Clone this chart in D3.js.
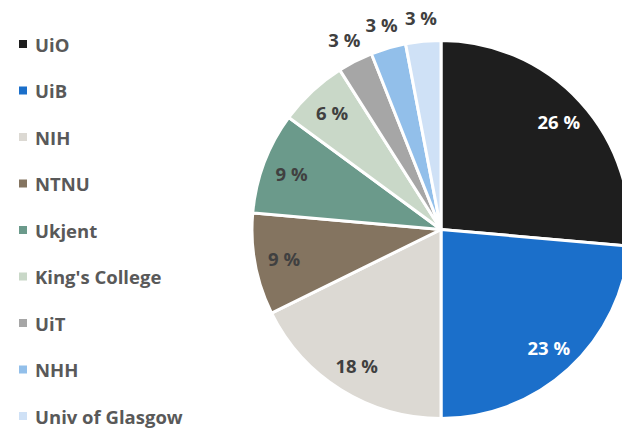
<!DOCTYPE html>
<html><head><meta charset="utf-8">
<script src="https://cdn.jsdelivr.net/npm/d3@7"></script>
<style>html,body{margin:0;padding:0;background:#fff;overflow:hidden}</style>
</head><body>
<svg id="chart" width="622" height="430"></svg>
<script>
const categories = ["UiO","UiB","NIH","NTNU","Ukjent","King's College","UiT","NHH","Univ of Glasgow"];
const values = [26.4, 23.6, 17.7, 8.7, 8.7, 5.9, 3.0, 3.0, 3.0];
const labels = ["26 %","23 %","18 %","9 %","9 %","6 %","3 %","3 %","3 %"];
const colors = ["#1e1e1e","#1b6fca","#dcd9d3","#847460","#6b9a8b","#c9d8c8","#a6a6a6","#92bfea","#cfe1f6"];
const labelColors = ["#ffffff","#ffffff","#404040","#404040","#404040","#404040","#404040","#404040","#404040"];

const svg = d3.select("#chart");
const cx = 441, cy = 229.5, R = 189;
const font = "'Open Sans', sans-serif";

const pie = d3.pie().sort(null).value(d => d.v);
const data = pie(categories.map((c,i)=>({c, v: values[i], i})));
const arc = d3.arc().innerRadius(0).outerRadius(R);
const g = svg.append("g").attr("transform", `translate(${cx},${cy})`);
g.selectAll("path").data(data).join("path")
  .attr("d", arc)
  .attr("fill", d => colors[d.data.i])
  .attr("stroke", "#fff").attr("stroke-width", 3).attr("stroke-linejoin","round");

const inArc = d3.arc().innerRadius(R*0.845).outerRadius(R*0.845);
const outArc = d3.arc().innerRadius(R+24).outerRadius(R+24);
g.selectAll("text.lbl").data(data).join("text")
  .attr("class","lbl")
  .attr("transform", d => {
    const p = (d.data.v < 4 ? outArc : inArc).centroid(d);
    return `translate(${p[0]},${p[1]})`;
  })
  .attr("text-anchor","middle").attr("dominant-baseline","central")
  .attr("font-family", font).attr("font-weight","bold").attr("font-size", 18.5)
  .attr("fill", d => labelColors[d.data.i])
  .text(d => labels[d.data.i]);

const y = d3.scalePoint().domain(categories).range([44, 416]);
const leg = svg.append("g");
const items = leg.selectAll("g").data(categories).join("g")
  .attr("transform", d => `translate(0,${y(d)})`);
items.append("rect").attr("x", 19).attr("y", -4).attr("width", 8).attr("height", 8)
  .attr("fill", (d,i) => colors[i]);
items.append("text").attr("x", 35).attr("y", 0).attr("dominant-baseline","central")
  .attr("font-family", font).attr("font-weight", "bold").attr("font-size", 18.5)
  .attr("fill", "#595959").text(d => d);
</script>
</body></html>
